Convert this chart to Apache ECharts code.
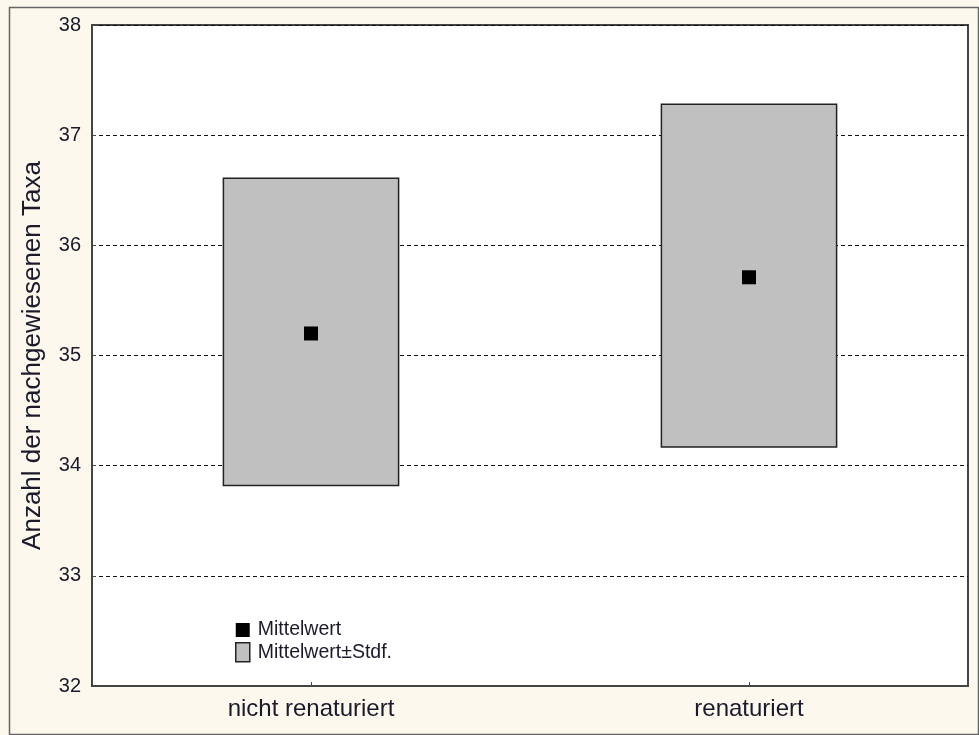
<!DOCTYPE html>
<html>
<head>
<meta charset="utf-8">
<script src="https://cdn.jsdelivr.net/npm/echarts@6/dist/echarts.min.js"></script>
<style>
html,body{margin:0;padding:0;background:#fdf8ee;}
#chart{width:979px;height:735px;}
</style>
</head>
<body>
<div id="chart"></div>
<script>
const categories = ['nicht renaturiert', 'renaturiert'];
const means = [35.20, 35.71];
const lowerSD = [33.82, 34.17];
const upperSD = [36.61, 37.28];
const yTicks = [32, 33, 34, 35, 36, 37, 38];

const FONT = '"Liberation Sans", Arial, sans-serif';
const chart = echarts.init(document.getElementById('chart'));

const boxData = categories.map((c, i) => [i, lowerSD[i], upperSD[i]]);
const meanData = categories.map((c, i) => [i, means[i]]);

chart.setOption({
  backgroundColor: '#fdf8ee',
  animation: false,
  textStyle: { fontFamily: FONT },
  graphic: [{
    type: 'rect', left: 7, top: 5, z: 100, silent: true,
    shape: { width: 969, height: 727 },
    style: { fill: 'none', stroke: '#666', lineWidth: 1.5 }
  }],
  grid: {
    left: 92, top: 25, right: 11, bottom: 49,
    show: true, backgroundColor: '#fff', borderColor: '#444', borderWidth: 2
  },
  legend: {
    orient: 'vertical', left: 230, top: 615, itemGap: 2,
    itemWidth: 14, itemHeight: 19, selectedMode: false,
    textStyle: { fontSize: 19.5, color: '#1a1a2a', fontFamily: FONT, padding: [0, 0, 0, 3] },
    data: [
      { name: 'Mittelwert', icon: 'path://M0,5H12V17H0Z', itemStyle: { color: '#000', borderWidth: 0, opacity: 1 } },
      { name: 'Mittelwert±Stdf.', icon: 'rect', itemStyle: { color: '#c0c0c0', borderColor: '#222', borderWidth: 1.5 } }
    ]
  },
  xAxis: {
    type: 'category', data: categories, boundaryGap: true,
    axisLine: { lineStyle: { color: '#444', width: 2 } },
    axisTick: { show: true, inside: true, alignWithLabel: true, length: 4, lineStyle: { color: '#444' } },
    axisLabel: { fontSize: 24, color: '#1a1a2a', margin: 11, fontFamily: FONT },
    splitLine: { show: false }
  },
  yAxis: {
    type: 'value', min: yTicks[0], max: yTicks[yTicks.length - 1], interval: 1,
    name: 'Anzahl der nachgewiesenen Taxa', nameLocation: 'middle', nameGap: 46,
    nameTextStyle: { fontSize: 26, color: '#1a1a2a', fontFamily: FONT },
    axisLine: { show: true, lineStyle: { color: '#444', width: 2 } },
    axisTick: { show: true, inside: true, length: 4, lineStyle: { color: '#444' } },
    axisLabel: { fontSize: 20, color: '#1a1a2a', margin: 11, fontFamily: FONT },
    splitLine: { show: true, lineStyle: { color: '#111', type: [4, 3], width: 1 } }
  },
  series: [
    {
      name: 'Mittelwert±Stdf.', type: 'custom',
      data: boxData,
      itemStyle: { color: '#c0c0c0', borderColor: '#222', borderWidth: 1.5 },
      encode: { x: 0, y: [1, 2] },
      renderItem: function (params, api) {
        const idx = api.value(0);
        const lo = api.coord([idx, api.value(1)]);
        const hi = api.coord([idx, api.value(2)]);
        const w = api.size([1, 0])[0] * 0.4;
        return {
          type: 'rect',
          shape: { x: lo[0] - w / 2, y: hi[1], width: w, height: lo[1] - hi[1] },
          style: { fill: '#c0c0c0', stroke: '#222', lineWidth: 1.5 }
        };
      },
      z: 3
    },
    {
      name: 'Mittelwert', type: 'scatter',
      data: meanData, symbol: 'rect', symbolSize: 14,
      itemStyle: { color: '#000', opacity: 1 }, z: 5
    }
  ]
});
</script>
</body>
</html>
